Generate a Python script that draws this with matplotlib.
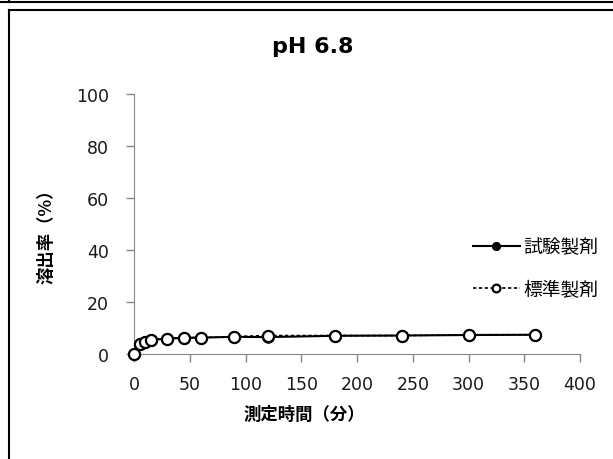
import matplotlib
matplotlib.use("Agg")
import matplotlib.pyplot as plt
from matplotlib.lines import Line2D

plt.rcParams['font.family'] = ['DejaVu Sans', 'Noto Sans CJK JP']

# 溶出試験データ (pH 6.8)
times = [0, 5, 10, 15, 30, 45, 60, 90, 120, 180, 240, 300, 360]
test_vals = [0, 3.8, 4.7, 5.4, 5.9, 6.2, 6.3, 6.6, 6.5, 7.0, 7.1, 7.3, 7.4]
ref_vals = [0, 3.7, 4.6, 5.5, 5.9, 6.3, 6.3, 6.7, 7.1, 7.1, 7.1, 7.4, 7.4]
xticks = [0, 50, 100, 150, 200, 250, 300, 350, 400]
yticks = [0, 20, 40, 60, 80, 100]

W, H = 613, 460
fig = plt.figure(figsize=(W / 100, H / 100), dpi=100)
ax = fig.add_axes([134 / W, 1 - 355 / H, (580 - 134) / W, (355 - 95) / H])

ax.plot(times, test_vals, color='black', lw=1.5, marker='o', ms=8,
        mfc='black', mec='black', label='試験製剤', clip_on=False, zorder=3)
ax.plot(times, ref_vals, color='black', lw=1.2, ls=(0, (2, 1.5)), marker='o', ms=8,
        mfc='white', mec='black', mew=1.6, label='標準製剤', clip_on=False, zorder=4)

ax.set_xlim(0, 400)
ax.set_ylim(0, 100)
ax.set_xticks(xticks)
ax.set_yticks(yticks)
for s in ['top', 'right']:
    ax.spines[s].set_visible(False)
for s in ['left', 'bottom']:
    ax.spines[s].set_color('#868686')
ax.tick_params(colors='#868686', labelcolor='#1a1a1a', labelsize=12.5, length=6, width=1)
ax.tick_params(axis='y', pad=12)
ax.tick_params(axis='x', pad=9)

fig.text(47 / W, 1 - 232 / H, '溶出率（%）', rotation=90, ha='center', va='center',
         fontsize=12.5, fontweight='bold', family=['Noto Sans CJK JP', 'DejaVu Sans'])
fig.text(304 / W, 1 - 415 / H, '測定時間（分）', ha='center', va='center',
         fontsize=12.5, fontweight='bold', family=['Noto Sans CJK JP', 'DejaVu Sans'])

leg = ax.legend(loc='center left', bbox_to_anchor=(322 / 446, 0.33), frameon=False,
                prop={'family': ['Noto Sans CJK JP', 'DejaVu Sans'], 'size': 13.5},
                handlelength=2.5, labelspacing=1.15, handletextpad=0.2, markerscale=0.7)

fig.text(313 / W, 1 - 47 / H, 'pH 6.8', ha='center', va='center',
         fontsize=16, fontweight='bold')

# 枠線
fig.add_artist(Line2D([0, 1], [1 - 2.5 / H, 1 - 2.5 / H], color='black', lw=1.5))
fig.add_artist(Line2D([8.5 / W, 8.5 / W], [1, 1 - 3 / H], color='black', lw=1.5))
fig.add_artist(Line2D([8.5 / W, 1], [1 - 10.5 / H, 1 - 10.5 / H], color='black', lw=1.5))
fig.add_artist(Line2D([8.5 / W, 8.5 / W], [1 - 10.5 / H, 0], color='black', lw=1.5))

fig.savefig('out.png', dpi=100)
